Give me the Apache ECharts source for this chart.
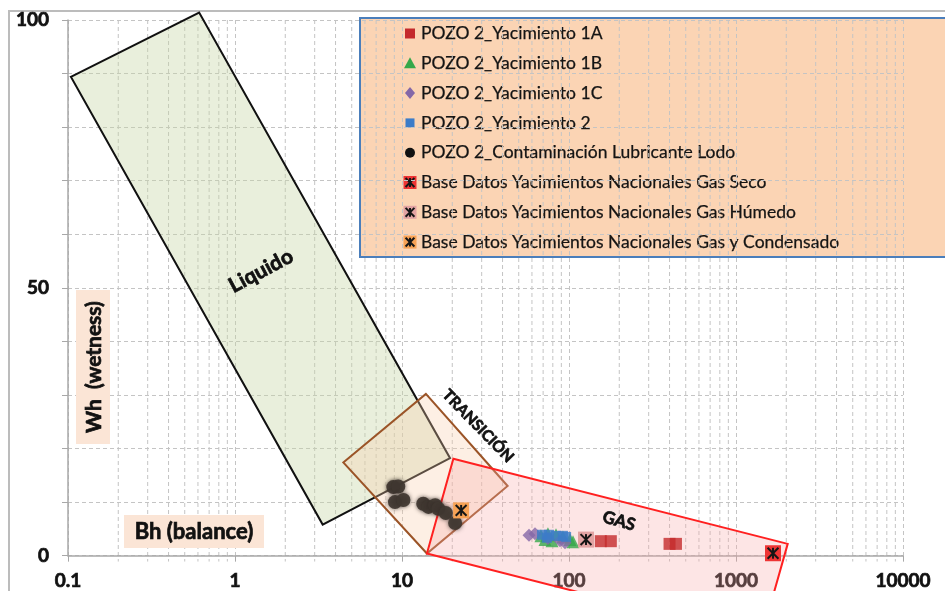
<!DOCTYPE html>
<html>
<head>
<meta charset="utf-8">
<script src="https://cdn.jsdelivr.net/npm/echarts@6/dist/echarts.min.js"></script>
<style>
  html, body { margin: 0; padding: 0; background: #fff; }
  #chart { width: 945px; height: 591px; }
</style>
</head>
<body>
<div id="chart"></div>
<script>
// ---- axes ----
const xTicks = [0.1, 1, 10, 100, 1000, 10000];
const yTicks = [0, 50, 100];

// ---- interpretation zones, vertices as [Bh, Wh] ----
const zonaLiquido    = [[0.104, 89.4], [0.61, 101.4], [19.4, 18.2], [3.35, 5.8]];
const zonaTransicion = [[4.45, 17.4], [13.9, 30.2], [42.9, 13.0], [14.1, 0.4]];
const zonaGas        = [[20.3, 18.1], [2040, 2.2], [1410, -15.5], [14.1, 0.4]];

// ---- well samples, [Bh, Wh] ----
const yac1A = [[155, 2.7], [178, 2.7], [400, 2.2], [437, 2.2]];
const yac1B = [[67.9, 3.7], [74.8, 4.1], [83.6, 3.9], [92.0, 3.5], [101.4, 3.0], [105.7, 2.6], [79.1, 2.8], [71.8, 3.0]];
const yac1C = [[57.6, 3.8], [62.6, 4.1], [74.8, 3.2], [88.3, 2.8], [94.6, 2.4]];
const yac2  = [[68.9, 3.9], [75.9, 3.9], [83.6, 3.7], [92.0, 3.7], [96.1, 3.5], [73.7, 3.35]];
const lubricante = [[8.87, 12.8], [9.5, 12.9], [9.08, 10.0], [10.2, 10.4], [13.4, 9.7], [14.4, 9.1],
                    [15.8, 9.4], [16.5, 8.75], [18.3, 7.95], [20.8, 6.1]];

// ---- national field database ----
const gasSeco       = [[1666, 0.45]];
const gasHumedo     = [[126.4, 3.0]];
const gasCondensado = [[22.6, 8.45]];

const seriesNames = [
  'POZO 2_Yacimiento 1A',
  'POZO 2_Yacimiento 1B',
  'POZO 2_Yacimiento 1C',
  'POZO 2_Yacimiento 2',
  'POZO 2_Contaminación Lubricante Lodo',
  'Base Datos Yacimientos Nacionales Gas Seco',
  'Base Datos Yacimientos Nacionales Gas Húmedo',
  'Base Datos Yacimientos Nacionales Gas y Condensado'
];

const FONT = 'Lato, "Open Sans", sans-serif';
const GRID_COLOR = '#c4c4c4';
const AXIS_COLOR = '#a8a8a8';
const INK = '#111111';

// Colours per series
const C = {
  y1A: '#c42a2c', y1B: '#35a84a', y1C: '#8468a8', y2: '#3c7cc8', lub: '#403731',
  seco: '#ee3434', humedo: '#e2a3a3', cond: '#f7a255'
};

// minor log grid positions (2..9 within each decade)
const minorX = [];
for (let d = 0; d < xTicks.length - 1; d++) {
  for (let k = 2; k <= 9; k++) minorX.push([xTicks[d] * k]);
}

function starShape(cx, cy, s, color) {
  const h = s / 2, a = s * 0.34;
  return {
    type: 'group',
    children: [
      { type: 'rect', shape: { x: cx - h, y: cy - h, width: s, height: s }, style: { fill: color } },
      { type: 'line', shape: { x1: cx, y1: cy - a, x2: cx, y2: cy + a }, style: { stroke: '#161616', lineWidth: 2 } },
      { type: 'line', shape: { x1: cx - a, y1: cy - a, x2: cx + a, y2: cy + a }, style: { stroke: '#161616', lineWidth: 2 } },
      { type: 'line', shape: { x1: cx + a, y1: cy - a, x2: cx - a, y2: cy + a }, style: { stroke: '#161616', lineWidth: 2 } }
    ]
  };
}

function zoneSeries(name, pts, fill, stroke, z) {
  return {
    type: 'custom', name: name, silent: true, z: z, clip: false,
    data: pts,
    renderItem: function (params, api) {
      if (params.dataIndex !== 0) return null;
      return {
        type: 'polygon',
        shape: { points: pts.map(function (p) { return api.coord(p); }) },
        style: { fill: fill, stroke: stroke, lineWidth: 2 }
      };
    }
  };
}

function starSeries(name, data, color) {
  return {
    type: 'custom', name: name, z: 20, clip: false, data: data,
    renderItem: function (params, api) {
      const p = api.coord([api.value(0), api.value(1)]);
      return starShape(p[0], p[1], 16, color);
    }
  };
}

// heavy annotation text (bold face thickened with an outline of the same ink)
function heavyText(x, y, text, size, rotDeg) {
  return {
    type: 'text', z: 51, x: x, y: y, rotation: (rotDeg || 0) * Math.PI / 180,
    style: {
      text: text, font: 'bold ' + size + 'px ' + FONT, fill: INK,
      stroke: INK, lineWidth: 0.7, align: 'center', verticalAlign: 'middle'
    }
  };
}

const series = [
  {
    type: 'custom', name: 'minorGrid', silent: true, z: 0, clip: false, data: minorX,
    renderItem: function (params, api) {
      const top = api.coord([api.value(0), 100]);
      const bot = api.coord([api.value(0), -1.1]);
      return {
        type: 'line',
        shape: { x1: top[0], y1: top[1], x2: bot[0], y2: bot[1] },
        style: { stroke: GRID_COLOR, lineWidth: 1, lineDash: [4, 3] }
      };
    }
  },
  zoneSeries('Liquido', zonaLiquido, 'rgba(200,216,168,0.40)', '#111', 1),
  zoneSeries('Transición', zonaTransicion, 'rgba(248,205,172,0.32)', '#9b5427', 2),
  zoneSeries('Gas', zonaGas, 'rgba(250,168,168,0.30)', '#ff2020', 3),
  {
    type: 'scatter', name: seriesNames[4], data: lubricante, z: 10,
    symbol: 'circle', symbolSize: 14,
    itemStyle: { color: C.lub, opacity: 0.92, shadowBlur: 4, shadowColor: 'rgba(50,42,36,0.8)' }
  },
  {
    type: 'scatter', name: seriesNames[1], data: yac1B, z: 11,
    symbol: 'triangle', symbolSize: 13, itemStyle: { color: C.y1B }
  },
  {
    type: 'scatter', name: seriesNames[2], data: yac1C, z: 12,
    symbol: 'diamond', symbolSize: 13, itemStyle: { color: C.y1C }
  },
  {
    type: 'scatter', name: seriesNames[3], data: yac2, z: 13,
    symbol: 'rect', symbolSize: 10, itemStyle: { color: C.y2 }
  },
  {
    type: 'scatter', name: seriesNames[0], data: yac1A, z: 14,
    symbol: 'rect', symbolSize: 12, itemStyle: { color: C.y1A }
  },
  starSeries(seriesNames[5], gasSeco, C.seco),
  starSeries(seriesNames[6], gasHumedo, C.humedo),
  starSeries(seriesNames[7], gasCondensado, C.cond)
];

// ---- legend block drawn as graphics ----
const legendMarkers = [
  function (x, y) { return { type: 'rect', shape: { x: x - 5, y: y - 5, width: 10, height: 10 }, style: { fill: C.y1A } }; },
  function (x, y) { return { type: 'polygon', shape: { points: [[x, y - 6], [x + 6, y + 5], [x - 6, y + 5]] }, style: { fill: C.y1B } }; },
  function (x, y) { return { type: 'polygon', shape: { points: [[x, y - 6], [x + 5, y], [x, y + 6], [x - 5, y]] }, style: { fill: C.y1C } }; },
  function (x, y) { return { type: 'rect', shape: { x: x - 4.5, y: y - 4.5, width: 9, height: 9 }, style: { fill: C.y2 } }; },
  function (x, y) { return { type: 'circle', shape: { cx: x, cy: y, r: 5 }, style: { fill: '#111' } }; },
  function (x, y) { return starShape(x, y, 13, C.seco); },
  function (x, y) { return starShape(x, y, 13, C.humedo); },
  function (x, y) { return starShape(x, y, 13, C.cond); }
];

const legendEls = [{
  type: 'rect', shape: { x: 360, y: 18, width: 620, height: 239 },
  style: { fill: '#fbd4b4', stroke: '#4a7ebb', lineWidth: 2 }
}];
seriesNames.forEach(function (n, i) {
  const cy = 33.5 + i * 29.8;
  legendEls.push(legendMarkers[i](410, cy));
  legendEls.push({
    type: 'text', x: 421, y: cy,
    style: { text: n, font: '17.5px ' + FONT, fill: '#141414', stroke: '#141414', lineWidth: 0.25, verticalAlign: 'middle' }
  });
});

const graphic = [
  // outer frame
  { type: 'rect', z: 0, shape: { x: 9, y: 11, width: 960, height: 600 }, style: { fill: null, stroke: '#bcbcbc', lineWidth: 2 }, silent: true },
  // axis title boxes
  { type: 'rect', z: 50, shape: { x: 76, y: 290, width: 34, height: 154 }, style: { fill: '#fbe5d6' } },
  heavyText(94, 367, 'Wh  (wetness)', 21, 90),
  { type: 'rect', z: 50, shape: { x: 124, y: 515, width: 140, height: 33 }, style: { fill: '#fbe5d6' } },
  heavyText(194, 532, 'Bh (balance)', 22, 0),
  // zone names
  heavyText(261, 271, 'Liquido', 21, 28),
  heavyText(478, 426, 'TRANSICIÓN', 15.5, -46),
  heavyText(619, 521, 'GAS', 17, -16),
  { type: 'group', z: 100, children: legendEls }
];

const axisLabelStyle = {
  color: INK, fontFamily: FONT, fontWeight: 'bold', fontSize: 19,
  textBorderColor: INK, textBorderWidth: 0.7
};

const option = {
  animation: false,
  backgroundColor: '#ffffff',
  grid: { left: 68, right: 42, top: 20, bottom: 34, containLabel: false },
  xAxis: {
    type: 'log', logBase: 10, min: xTicks[0], max: xTicks[xTicks.length - 1],
    axisLine: { show: true, onZero: false, lineStyle: { color: AXIS_COLOR, width: 1.5 } },
    axisTick: { show: true, length: 6, lineStyle: { color: AXIS_COLOR } },
    splitLine: { show: true, lineStyle: { color: GRID_COLOR, type: [4, 3], width: 1 } },
    axisLabel: Object.assign({
      margin: 16,
      formatter: function (v) {
        const t = xTicks.find(function (t) { return Math.abs(Math.log10(t) - Math.log10(v)) < 1e-6; });
        return t === undefined ? '' : String(t);
      }
    }, axisLabelStyle)
  },
  yAxis: {
    type: 'value', min: 0, max: 100, interval: 10,
    axisLine: { show: true, lineStyle: { color: AXIS_COLOR, width: 1.5 } },
    axisTick: { show: true, length: 6, lineStyle: { color: AXIS_COLOR } },
    splitLine: { show: true, lineStyle: { color: GRID_COLOR, type: [4, 3], width: 1 } },
    axisLabel: Object.assign({
      margin: 19,
      formatter: function (v) { return yTicks.indexOf(v) >= 0 ? String(v) : ''; }
    }, axisLabelStyle)
  },
  series: series,
  graphic: graphic
};

const chart = echarts.init(document.getElementById('chart'));
chart.setOption(option);
</script>
</body>
</html>
